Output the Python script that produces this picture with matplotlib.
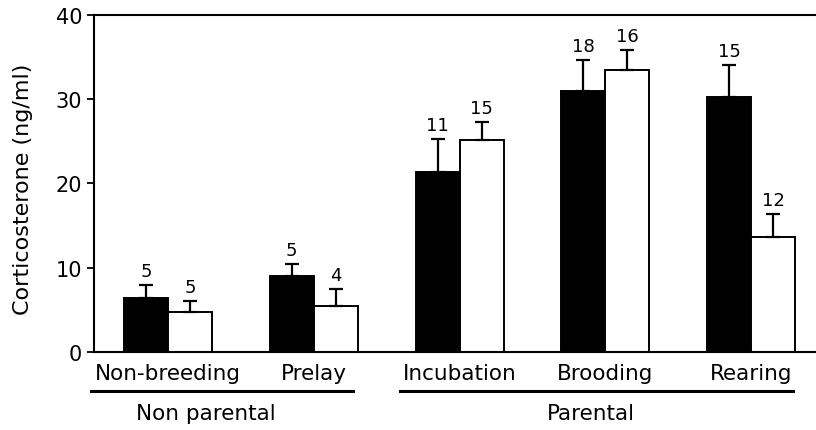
import numpy as np
import matplotlib.pyplot as plt

# stages and values
stages = ["Non-breeding", "Prelay", "Incubation", "Brooding", "Rearing"]
black_mean = [6.4, 9.0, 21.4, 31.0, 30.3]
black_err = [1.6, 1.4, 3.9, 3.7, 3.8]
black_n = ["5", "5", "11", "18", "15"]
white_mean = [4.8, 5.5, 25.1, 33.5, 13.7]
white_err = [1.2, 2.0, 2.2, 2.3, 2.7]
white_n = ["5", "4", "15", "16", "12"]

x = np.arange(len(stages))
w = 0.302

fig = plt.figure(figsize=(8.16, 4.31), dpi=100)
ax = fig.add_axes([0.1152, 0.181, 0.8848, 0.782])

#bars with upward error bars
ekw = dict(elinewidth=1.6, capthick=1.6, ecolor="black")
ax.bar(x - w/2, black_mean, w, color="black", edgecolor="black", linewidth=1.4,
       yerr=[np.zeros(5), black_err], capsize=4.8, error_kw=ekw, zorder=2)
ax.bar(x + w/2, white_mean, w, color="white", edgecolor="black", linewidth=1.4,
       yerr=[np.zeros(5), white_err], capsize=4.8, error_kw=ekw, zorder=2)

#sample sizes
for i in range(len(stages)):
    ax.text(x[i] - w/2, black_mean[i] + black_err[i] + 0.6, black_n[i],
            ha="center", va="bottom", fontsize=13)
    ax.text(x[i] + w/2, white_mean[i] + white_err[i] + 0.6, white_n[i],
            ha="center", va="bottom", fontsize=13)

ax.set_xlim(-0.508, 4.446)
ax.set_ylim(0, 40)
ax.set_yticks([0, 10, 20, 30, 40])
ax.set_xticks(x)
ax.set_xticklabels(stages, fontsize=15.5)
ax.tick_params(axis="x", length=0, pad=8)
ax.tick_params(axis="y", length=5, width=1.3, pad=3.5, labelsize=15, direction="out")
ax.set_ylabel("Corticosterone (ng/ml)", fontsize=16)
ax.yaxis.set_label_coords(-0.085, 0.485)

for s in ["left", "top", "bottom"]:
    ax.spines[s].set_linewidth(1.5)
ax.spines["right"].set_visible(False)

#group lines under the axis
trans = ax.get_xaxis_transform()
ax.plot([-0.528, 1.27], [-0.117, -0.117], color="black", lw=2.2,
        transform=trans, clip_on=False)
ax.plot([1.592, 4.29], [-0.117, -0.117], color="black", lw=2.2,
        transform=trans, clip_on=False)
ax.text(0.26, -0.182, "Non parental", transform=trans, ha="center", va="center", fontsize=15.5)
ax.text(2.90, -0.182, "Parental", transform=trans, ha="center", va="center", fontsize=15.5)

fig.savefig("out.png", dpi=100)
